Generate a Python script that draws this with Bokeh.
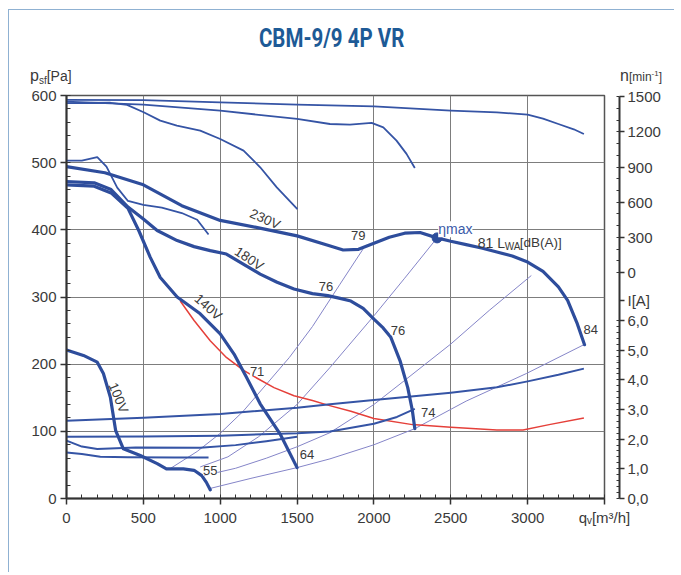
from bokeh.plotting import figure
from bokeh.models import Range1d, LinearAxis, FixedTicker, Label, Div
from bokeh.layouts import column
from bokeh.embed import file_html
from bokeh.resources import INLINE

TITLE = "CBM-9/9 4P VR"

# ---------------- pressure curves  p_sf [Pa]  vs  q_v [m3/h]
q_230V = [0, 250, 500, 750, 1000, 1250, 1500, 1700, 1800, 1900, 2000, 2100, 2200, 2300, 2410,
          2500, 2600, 2700, 2800, 2900, 3000, 3100, 3200, 3260, 3320, 3370]
p_230V = [494, 485, 467, 436, 414, 403, 391, 377, 370, 371, 380, 389, 395, 396, 388,
          383, 378, 373, 367, 361, 352, 338, 315, 295, 262, 229]

q_180V = [0, 180, 290, 400, 500, 590, 720, 830, 935, 1040, 1150, 1260, 1370, 1480, 1600, 1700,
          1780, 1850, 1930, 2000, 2060, 2110, 2170, 2220, 2250, 2266]
p_180V = [472, 470, 460, 434, 416, 399, 384, 375, 369, 364, 349, 334, 322, 312, 305, 302,
          298, 294, 283, 267, 254, 240, 205, 165, 131, 104]

q_140V = [0, 180, 290, 400, 470, 545, 610, 720, 870, 1000, 1090, 1170, 1260, 1390, 1500]
p_140V = [467, 465, 455, 432, 399, 359, 329, 300, 275, 245, 215, 181, 141, 96, 46]

q_100V = [0, 110, 200, 240, 285, 320, 370, 480, 590, 650, 760, 830, 880, 910, 935]
p_100V = [221, 213, 203, 186, 151, 101, 74, 64, 52, 44, 44, 42, 34, 24, 13]

# ---------------- speed curves  n [min-1]
q_n230 = [0, 500, 1000, 1500, 2000, 2500, 2800, 3000, 3100, 3200, 3300, 3366]
n_230 = [1472, 1470, 1451, 1432, 1417, 1381, 1366, 1347, 1313, 1267, 1222, 1182]
q_n180 = [0, 500, 1000, 1500, 1714, 1844, 1985, 2061, 2147, 2212, 2266]
n_180 = [1457, 1432, 1381, 1310, 1267, 1261, 1276, 1238, 1125, 1012, 892]
q_n140 = [0, 286, 394, 502, 610, 718, 870, 1000, 1152, 1260, 1368, 1502]
n_140 = [1445, 1448, 1430, 1367, 1296, 1253, 1210, 1139, 1040, 898, 727, 542]
q_n100 = [0, 100, 200, 260, 330, 400, 500, 620, 750, 850, 924]
n_100 = [955, 955, 984, 903, 725, 611, 577, 554, 508, 451, 325]

# ---------------- current curves  I [A]
q_i230 = [0, 500, 1000, 1500, 1714, 2000, 2500, 2800, 3000, 3200, 3366]
i_230 = [2.62, 2.72, 2.85, 3.06, 3.18, 3.32, 3.57, 3.75, 3.95, 4.17, 4.38]
q_i180 = [0, 500, 1000, 1500, 1714, 2000, 2150, 2266]
i_180 = [2.08, 2.09, 2.12, 2.20, 2.26, 2.52, 2.75, 3.02]
q_i140 = [0, 100, 200, 450, 870, 1100, 1300, 1500]
i_140 = [1.95, 1.75, 1.67, 1.72, 1.71, 1.80, 1.93, 2.08]
q_i100 = [0, 100, 220, 400, 700, 924]
i_100 = [1.55, 1.50, 1.41, 1.39, 1.38, 1.38]

# ---------------- system (noise) lines  p_sf [Pa]
q_sysA = [671, 850, 1000, 1150, 1300, 1450, 1600, 1779, 1931]
p_sysA = [44, 70, 97, 130, 170, 210, 256, 319, 372]
q_sysB = [870, 1050, 1250, 1500, 1714, 2000, 2200, 2411]
p_sysB = [47, 62, 92, 140, 195, 272, 328, 388]
q_sysC = [892, 1100, 1300, 1500, 1714, 2000, 2212, 2500, 2750, 3024]
p_sysC = [34, 45, 60, 77, 98, 140, 178, 230, 280, 332]
q_sysD = [935, 1200, 1500, 1714, 2000, 2266, 2600, 2991, 3366]
p_sysD = [15, 30, 46, 59, 80, 104, 145, 186, 229]

# ---------------- red line
q_red = [740, 830, 935, 1040, 1150, 1240, 1350, 1480, 1600, 1700, 1850, 2000, 2250, 2500, 2800, 2970, 3140, 3366]
p_red = [294, 265, 235, 210, 191, 179, 165, 153, 146, 139, 130, 119, 110, 106, 102, 102, 110, 120]

# ---------------- eta max point
eta_q = [2411]
eta_p = [388]

# ---------------- axes ticks
x_ticks = [0, 500, 1000, 1500, 2000, 2500, 3000]
x_unit_tick = 3500
x_unit_label = "q\u1d65[m\u00b3/h]"
y_ticks = [0, 100, 200, 300, 400, 500, 600]
n_ticks = [0, 300, 600, 900, 1200, 1500]
i_ticks = [0, 1, 2, 3, 4, 5, 6]
i_tick_labels = ["0,0", "1,0", "2,0", "3,0", "4,0", "5,0", "6,0"]
i_unit_tick = 6.67
i_unit_label = "I[A]"

# ---------------- curve annotations
volt_labels = ["230V", "180V", "140V", "100V"]
volt_q = [1292, 1188, 922, 338]
volt_p = [416, 357, 285, 150]
volt_angle = [-0.42, -0.59, -0.72, -1.18]

level_labels = ["55", "64", "71", "76", "76", "74", "79", "84"]
level_q = [935, 1565, 1240, 1688, 2156, 2353, 1898, 3411]
level_p = [41, 65, 189, 316, 250, 128, 391, 252]

NAVY = "#2e4d9c"
MID = "#3554a5"
SYS = "#8585c8"
RED = "#e5403a"
TXT = "#3a3a3a"
FONT = "Liberation Sans"

fig = figure(width=665, height=488, x_range=Range1d(0, 3500), y_range=Range1d(0, 600),
             output_backend="svg", toolbar_location=None, margin=0,
             min_border_left=57, min_border_right=70, min_border_top=11, min_border_bottom=74)

fig.outline_line_color = "#555555"
fig.outline_line_width = 1.5
fig.background_fill_color = "white"

N_LO, N_HI = -1926.0, 1510.0
I_LO, I_HI = 0.0, 13.59
fig.extra_y_ranges = {"n": Range1d(N_LO, N_HI), "I": Range1d(I_LO, I_HI)}

# main axes
xa = fig.xaxis[0]
xa.ticker = FixedTicker(ticks=x_ticks + [x_unit_tick], minor_ticks=list(range(0, 3501, 100)))
xa.major_label_overrides = {x_unit_tick: x_unit_label}
ya = fig.yaxis[0]
ya.ticker = FixedTicker(ticks=y_ticks, minor_ticks=list(range(0, 601, 20)))
for ax in (xa, ya):
    ax.axis_line_color = "#333333"
    ax.axis_line_width = 2
    ax.major_tick_line_color = "#333333"
    ax.major_tick_line_width = 1.5
    ax.major_tick_out = 6
    ax.major_tick_in = 0
    ax.minor_tick_line_color = "#333333"
    ax.minor_tick_in = 4
    ax.minor_tick_out = 0
    ax.major_label_text_font = FONT
    ax.major_label_text_font_size = "15px"
    ax.major_label_text_color = TXT
    ax.major_label_standoff = 4

fig.xgrid.ticker = FixedTicker(ticks=x_ticks)
fig.ygrid.ticker = FixedTicker(ticks=y_ticks)
for g in (fig.xgrid[0], fig.ygrid[0]):
    g.grid_line_color = "#7d7d7d"
    g.grid_line_width = 1

# spacer + combined right axis (n on top, I at bottom)
spacer = LinearAxis(y_range_name="n", ticker=FixedTicker(ticks=[0]),
                    major_label_overrides={0: ""}, axis_line_color=None,
                    major_tick_out=15, major_tick_in=0, minor_tick_out=0, minor_tick_in=0,
                    major_tick_line_color=None, minor_tick_line_color=None,
                    major_label_standoff=0)
fig.add_layout(spacer, "right")


def i_to_n(v):
    return round(N_LO + (v - I_LO) * (N_HI - N_LO) / (I_HI - I_LO))


major = [i_to_n(v) for v in i_ticks] + [i_to_n(i_unit_tick)] + n_ticks
overrides = {i_to_n(v): lbl for v, lbl in zip(i_ticks, i_tick_labels)}
overrides[i_to_n(i_unit_tick)] = i_unit_label
overrides.update({v: str(v) for v in n_ticks})
minor = [i_to_n(k / 5) for k in range(0, 31)] + list(range(0, 1501, 100))
rax = LinearAxis(y_range_name="n", ticker=FixedTicker(ticks=major, minor_ticks=minor),
                 major_label_overrides=overrides, bounds=(i_to_n(0), 1500),
                 axis_line_color="#333333", axis_line_width=2,
                 major_tick_line_color="#333333", major_tick_line_width=1.5,
                 major_tick_out=5, major_tick_in=0,
                 minor_tick_line_color="#333333", minor_tick_in=3, minor_tick_out=0,
                 major_label_text_font=FONT, major_label_text_font_size="15px",
                 major_label_text_color=TXT, major_label_standoff=3)
fig.add_layout(rax, "right")

# system lines
for qs, ps in ((q_sysA, p_sysA), (q_sysB, p_sysB), (q_sysC, p_sysC), (q_sysD, p_sysD)):
    fig.line(qs, ps, line_color=SYS, line_width=1, line_join="round")

# red line
fig.line(q_red, p_red, line_color=RED, line_width=1.5, line_join="round")

# current curves
for qs, vs in ((q_i230, i_230), (q_i180, i_180), (q_i140, i_140), (q_i100, i_100)):
    fig.line(qs, vs, y_range_name="I", line_color=MID, line_width=2, line_join="round")

# speed curves
for qs, vs in ((q_n230, n_230), (q_n180, n_180), (q_n140, n_140), (q_n100, n_100)):
    fig.line(qs, vs, y_range_name="n", line_color=MID, line_width=1.8, line_join="round")

# pressure curves
for qs, ps in ((q_230V, p_230V), (q_180V, p_180V), (q_140V, p_140V), (q_100V, p_100V)):
    fig.line(qs, ps, line_color=NAVY, line_width=3.2, line_join="round", line_cap="round")

fig.scatter(eta_q, eta_p, size=10, color=NAVY)


def lab(x, y, text, size="13px", angle=0.0, color=TXT, bg=None, xo=0, yo=0,
        align="center", baseline="middle"):
    fig.add_layout(Label(x=x, y=y, text=text, text_font=FONT, text_font_size=size,
                         angle=angle, text_color=color, background_fill_color=bg,
                         x_offset=xo, y_offset=yo, text_align=align,
                         text_baseline=baseline))


for t, q, pp, a in zip(volt_labels, volt_q, volt_p, volt_angle):
    lab(q, pp, t, size="13.5px", angle=a)
for t, q, pp in zip(level_labels, level_q, level_p):
    lab(q, pp, t, size="13px", bg="white")

lab(2418, 401, "\u03b7max", size="14px", color="#3a5aa8", align="left", bg="white")
lab(2675, 381, "81 L", size="14px", align="left")
lab(2675, 381, "WA", size="10px", align="left", xo=27, yo=-4)
lab(2675, 381, "[dB(A)]", size="13.5px", align="left", xo=42)

header_html = f"""
<div style="position:relative;width:665px;height:74px;font-family:'Liberation Sans',Arial,sans-serif;color:{TXT};">
  <div style="position:absolute;left:0;top:11px;width:645px;text-align:center;">
    <span style="display:inline-block;transform:scaleX(0.82);font-family:Roboto,sans-serif;font-weight:bold;font-size:25px;color:#1d5a96;">{TITLE}</span>
  </div>
  <div style="position:absolute;left:21px;top:55px;font-size:16px;white-space:nowrap;">p<span style="font-size:10px;position:relative;top:3px;">sf</span><span style="font-size:14px;">[Pa]</span></div>
  <div style="position:absolute;left:611px;top:55px;font-size:16px;white-space:nowrap;">n<span style="font-size:12px;">[min<span style="font-size:8px;position:relative;top:-5px;">-1</span>]</span></div>
</div>
"""
header = Div(text=header_html, width=665, height=74, margin=0)

page = column(header, fig, spacing=0, margin=(9, 0, 0, 8))
page.styles = {"border-left": "1px solid #8fb1d2", "border-top": "1px solid #8fb1d2"}

open("out.html", "w").write(file_html(page, INLINE))
